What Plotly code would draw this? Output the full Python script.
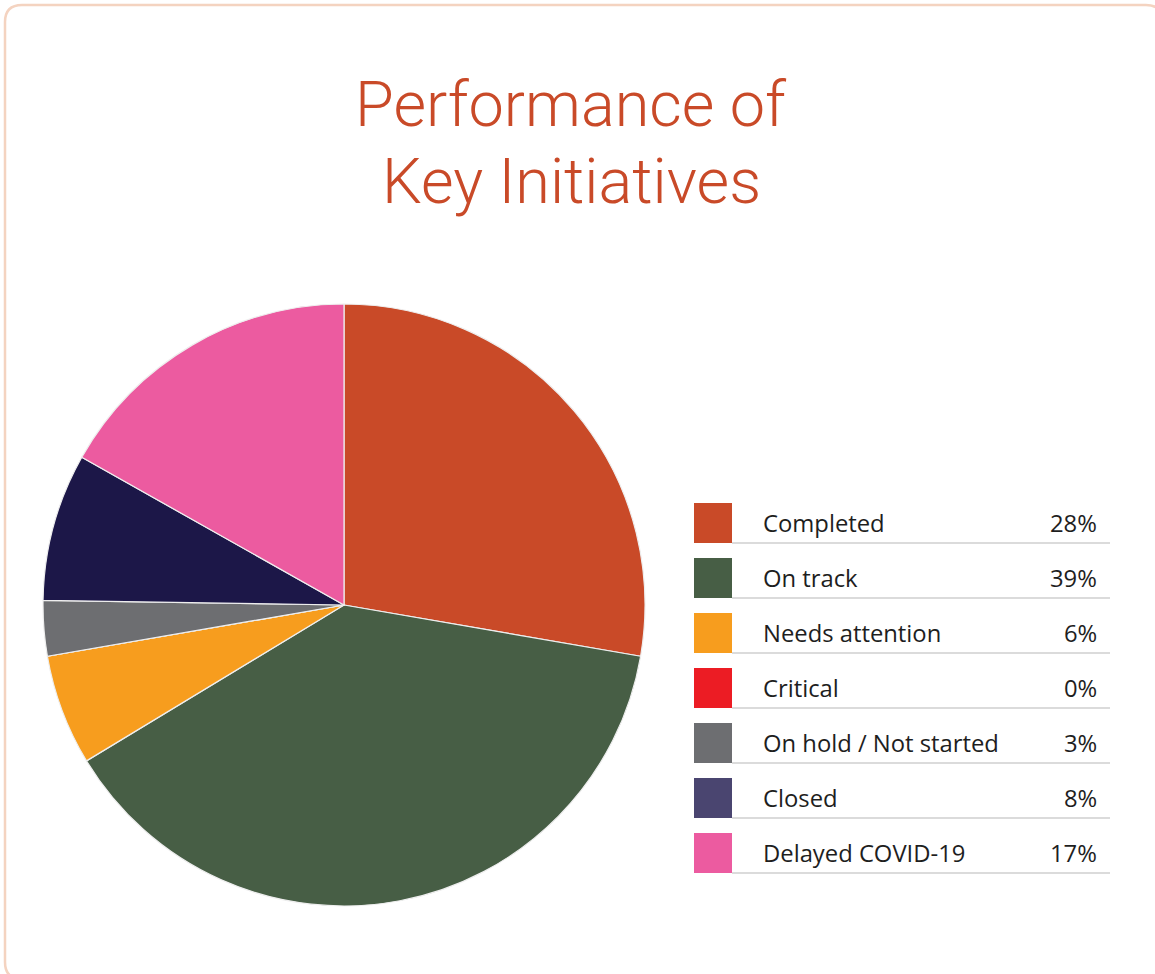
import plotly.graph_objects as go

# Initiative status breakdown (percent)
categories = ["Completed", "On track", "Needs attention", "Critical",
              "On hold / Not started", "Closed", "Delayed COVID-19"]
values = [28, 39, 6, 0, 3, 8, 17]
slice_colors = ["#c94a28", "#475e45", "#f79d1e", "#ec1c24",
                "#6d6e71", "#1c1748", "#ec5ba0"]
key_colors = ["#c94a28", "#475e45", "#f79d1e", "#ec1c24",
              "#6d6e71", "#4a4570", "#ec5ba0"]
title_lines = ["Performance of", "Key Initiatives"]

W, H = 1155, 974


def px(x):
    return x / W


def py(y):
    return 1 - y / H


fig = go.Figure()

# Pie: centre (344, 605), radius ~301 px
cx, cy, r = 344, 605, 301
fig.add_trace(go.Pie(
    labels=categories,
    values=values,
    sort=False,
    direction="clockwise",
    rotation=0,
    marker=dict(colors=slice_colors, line=dict(color="#eeeeee", width=1.2)),
    textinfo="none",
    hovertemplate="%{label}: %{value}%<extra></extra>",
    showlegend=False,
    domain=dict(x=[px(cx - r), px(cx + r)], y=[py(cy + r), py(cy - r)]),
))

shapes = []
annotations = []

# Rounded frame
x0, y0, x1, y1, rr = 5, 5, 1163, 979, 17
path = (
    f"M {px(x0 + rr)} {py(y0)} L {px(x1 - rr)} {py(y0)} "
    f"Q {px(x1)} {py(y0)} {px(x1)} {py(y0 + rr)} "
    f"L {px(x1)} {py(y1 - rr)} Q {px(x1)} {py(y1)} {px(x1 - rr)} {py(y1)} "
    f"L {px(x0 + rr)} {py(y1)} Q {px(x0)} {py(y1)} {px(x0)} {py(y1 - rr)} "
    f"L {px(x0)} {py(y0 + rr)} Q {px(x0)} {py(y0)} {px(x0 + rr)} {py(y0)} Z"
)
shapes.append(dict(type="path", xref="paper", yref="paper", path=path,
                   line=dict(color="#f4d3c0", width=2.5), layer="below"))

# Key table: swatch, label, percentage and rule under each row
key_font = dict(family="Open Sans", size=23.8, color="#1e1e1e")
top0, pitch, sw_h = 503, 55, 40
for i, (cat, val, col) in enumerate(zip(categories, values, key_colors)):
    t = top0 + i * pitch
    b = t + sw_h
    shapes.append(dict(type="rect", xref="paper", yref="paper",
                       x0=px(694), x1=px(732), y0=py(b), y1=py(t),
                       fillcolor=col, line=dict(width=0)))
    shapes.append(dict(type="line", xref="paper", yref="paper",
                       x0=px(732), x1=px(1110), y0=py(b), y1=py(b),
                       line=dict(color="#cfcfcf", width=1.3)))
    mid = (t + b) / 2
    annotations.append(dict(x=px(761), y=py(mid), xref="paper", yref="paper",
                            text=cat, showarrow=False, xanchor="left",
                            yanchor="middle", font=key_font))
    annotations.append(dict(x=px(1099), y=py(mid), xref="paper", yref="paper",
                            text=f"{val}%", showarrow=False, xanchor="right",
                            yanchor="middle", font=key_font))

# Title
for j, line in enumerate(title_lines):
    annotations.append(dict(x=px(571), y=py(104 + j * 77), xref="paper",
                            yref="paper", text=line, showarrow=False,
                            xanchor="center", yanchor="middle",
                            font=dict(family="Roboto", size=63, weight=300,
                                      color="#c94a28")))

fig.update_layout(
    width=W, height=H,
    margin=dict(l=0, r=0, t=0, b=0),
    paper_bgcolor="white",
    plot_bgcolor="white",
    shapes=shapes,
    annotations=annotations,
)

fig.write_html("out.html")
